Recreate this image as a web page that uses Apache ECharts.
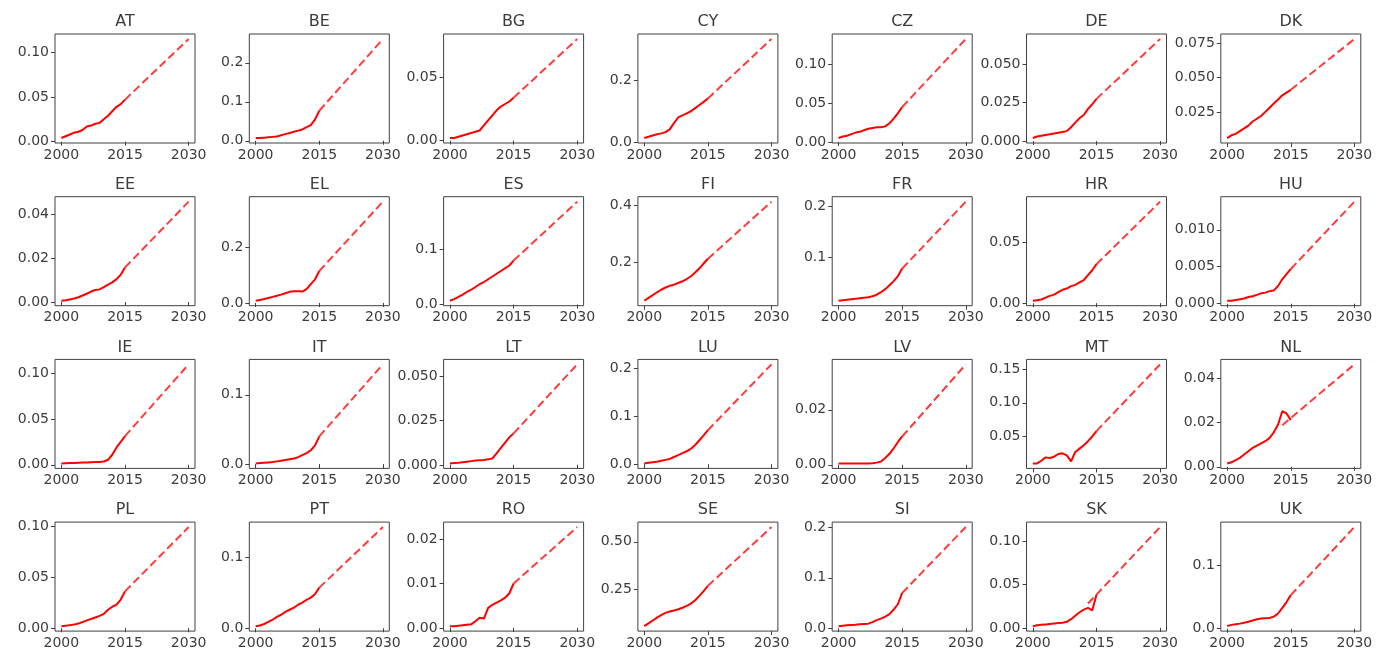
<!DOCTYPE html>
<html>
<head>
<meta charset="utf-8">
<script src="https://cdn.jsdelivr.net/npm/echarts@6/dist/echarts.min.js"></script>
<style>
html,body{margin:0;padding:0;background:#fff;}
#main{width:1386px;height:661px;}
</style>
</head>
<body>
<div id="main"></div>
<script>
// ---- DATA ----
const countries = ["AT","BE","BG","CY","CZ","DE","DK",
                   "EE","EL","ES","FI","FR","HR","HU",
                   "IE","IT","LT","LU","LV","MT","NL",
                   "PL","PT","RO","SE","SI","SK","UK"];
const years = [2000,2001,2002,2003,2004,2005,2006,2007,2008,2009,2010,2011,2012,2013,2014,2015];
const xTickLabels = ["2000","2015","2030"];

const AT = [0.004,0.006,0.008,0.010,0.011,0.013,0.017,0.018,0.020,0.021,0.025,0.029,0.034,0.039,0.042,0.047];
const BE = [0.007,0.007,0.008,0.009,0.010,0.011,0.014,0.017,0.020,0.023,0.026,0.029,0.035,0.040,0.055,0.077];
const BG = [0.002,0.002,0.003,0.004,0.005,0.006,0.007,0.008,0.012,0.016,0.020,0.024,0.027,0.029,0.031,0.034];
const CY = [0.014,0.018,0.022,0.026,0.029,0.033,0.042,0.062,0.080,0.087,0.093,0.100,0.110,0.120,0.130,0.141];
const CZ = [0.005,0.007,0.008,0.010,0.012,0.013,0.015,0.017,0.018,0.019,0.019,0.020,0.024,0.030,0.037,0.045];
const DE = [0.002,0.003,0.0035,0.004,0.0045,0.005,0.0055,0.006,0.0065,0.009,0.012,0.015,0.017,0.021,0.024,0.0275];
const DK = [0.006,0.008,0.009,0.011,0.013,0.015,0.018,0.020,0.022,0.025,0.028,0.031,0.034,0.037,0.039,0.041];
const EE = [0.0006,0.0008,0.0012,0.0016,0.0022,0.003,0.0038,0.0048,0.0055,0.0058,0.0068,0.008,0.009,0.0105,0.0125,0.0158];
const EL = [0.008,0.011,0.014,0.018,0.022,0.026,0.030,0.035,0.040,0.042,0.042,0.041,0.050,0.068,0.085,0.115];
const ES = [0.007,0.010,0.014,0.018,0.023,0.027,0.032,0.037,0.041,0.046,0.051,0.056,0.061,0.066,0.071,0.080];
const FI = [0.063,0.073,0.083,0.093,0.102,0.110,0.116,0.120,0.126,0.132,0.140,0.150,0.163,0.178,0.195,0.212];
const FR = [0.013,0.014,0.015,0.016,0.017,0.018,0.019,0.020,0.022,0.025,0.030,0.036,0.044,0.052,0.062,0.077];
const HR = [0.002,0.0025,0.003,0.0045,0.006,0.007,0.009,0.011,0.012,0.014,0.015,0.017,0.019,0.023,0.027,0.032];
const HU = [0.0004,0.0004,0.0005,0.0006,0.0007,0.0009,0.001,0.0012,0.0014,0.0015,0.0017,0.0018,0.0024,0.0033,0.004,0.0047];
const IE = [0.0015,0.0017,0.0019,0.002,0.0022,0.0024,0.0026,0.0028,0.003,0.0032,0.0036,0.0055,0.011,0.019,0.025,0.0315];
const IT = [0.001,0.0015,0.002,0.0025,0.003,0.004,0.005,0.006,0.007,0.008,0.010,0.013,0.016,0.020,0.027,0.040];
const LT = [0.0008,0.001,0.0012,0.0015,0.0018,0.0021,0.0024,0.0026,0.0028,0.0031,0.0036,0.0065,0.0095,0.0125,0.0155,0.0177];
const LU = [0.0015,0.003,0.004,0.005,0.007,0.009,0.011,0.015,0.019,0.023,0.027,0.032,0.040,0.050,0.060,0.071];
const LV = [0.0005,0.0005,0.0005,0.0005,0.0005,0.0005,0.0005,0.0005,0.0006,0.0008,0.0012,0.0025,0.004,0.006,0.0083,0.0103];
const MT = [0.010,0.010,0.014,0.019,0.018,0.020,0.024,0.025,0.022,0.013,0.027,0.032,0.037,0.043,0.050,0.058];
const NL = [0.0015,0.002,0.003,0.004,0.0055,0.007,0.0085,0.0095,0.0105,0.0115,0.013,0.0155,0.019,0.025,0.024,0.021];
const PL = [0.002,0.0025,0.003,0.0035,0.0045,0.006,0.0076,0.009,0.0105,0.012,0.014,0.018,0.021,0.023,0.028,0.036];
const PT = [0.003,0.004,0.006,0.009,0.012,0.016,0.019,0.023,0.026,0.029,0.033,0.036,0.040,0.043,0.048,0.057];
const RO = [0.0004,0.0004,0.0005,0.0006,0.0007,0.0008,0.0015,0.0023,0.0021,0.0045,0.0052,0.0057,0.0062,0.0068,0.0078,0.0100];
const SE = [0.055,0.070,0.085,0.100,0.113,0.125,0.132,0.138,0.144,0.152,0.162,0.174,0.192,0.215,0.240,0.268];
const SI = [0.004,0.005,0.006,0.0065,0.007,0.008,0.0085,0.009,0.012,0.016,0.019,0.023,0.028,0.037,0.048,0.070];
const SK = [0.002,0.003,0.0035,0.004,0.0045,0.005,0.0055,0.006,0.007,0.010,0.014,0.018,0.021,0.023,0.020,0.038];
const UK = [0.004,0.006,0.007,0.008,0.0095,0.011,0.013,0.015,0.016,0.0165,0.017,0.019,0.024,0.033,0.042,0.053];

const historical = [AT,BE,BG,CY,CZ,DE,DK,EE,EL,ES,FI,FR,HR,HU,IE,IT,LT,LU,LV,MT,NL,PL,PT,RO,SE,SI,SK,UK];

// projection (dashed) : start year, start value, value in 2030
const trendStartYear = [2015,2015,2015,2015,2015,2015,2015,
                        2015,2015,2015,2015,2015,2015,2015,
                        2015,2015,2015,2015,2015,2015,2013,
                        2015,2015,2015,2015,2015,2013,2015];
const trendStartValue = [0.047,0.077,0.034,0.141,0.045,0.0275,0.041,
                         0.0158,0.115,0.080,0.212,0.077,0.032,0.0047,
                         0.0315,0.040,0.0177,0.071,0.0103,0.058,0.0187,
                         0.036,0.057,0.0100,0.268,0.070,0.028,0.053];
const trendEndYear = 2030;
const trendEndValue = [0.115,0.261,0.0806,0.332,0.1325,0.0665,0.0779,
                       0.0459,0.364,0.187,0.4145,0.21,0.0833,0.0138,
                       0.110,0.144,0.0565,0.2086,0.0365,0.157,0.0461,
                       0.099,0.142,0.0227,0.578,0.201,0.116,0.1606];

const yTickLabels = [
  ["0.00","0.05","0.10"],["0.0","0.1","0.2"],["0.00","0.05"],["0.0","0.2"],["0.00","0.05","0.10"],["0.000","0.025","0.050"],["0.025","0.050","0.075"],
  ["0.00","0.02","0.04"],["0.0","0.2"],["0.0","0.1"],["0.2","0.4"],["0.1","0.2"],["0.00","0.05"],["0.000","0.005","0.010"],
  ["0.00","0.05","0.10"],["0.0","0.1"],["0.000","0.025","0.050"],["0.0","0.1","0.2"],["0.00","0.02"],["0.05","0.10","0.15"],["0.00","0.02","0.04"],
  ["0.00","0.05","0.10"],["0.0","0.1"],["0.00","0.01","0.02"],["0.25","0.50"],["0.0","0.1","0.2"],["0.00","0.05","0.10"],["0.0","0.1"]
];

// ---- CHART ----
const chart = echarts.init(document.getElementById('main'), null, {renderer: 'canvas'});
const FONT = 'DejaVu Sans';
const TXT = '#3c3c3c';
const grids = [], xAxes = [], yAxes = [], series = [], titles = [];
const xTicks = xTickLabels.map(Number);

countries.forEach((name, i) => {
  const row = Math.floor(i / 7), col = i % 7;
  const left = 55 + col * 194.3;
  const top = 34 + row * 162.7;
  const w = 140, h = 109;
  grids.push({left: left, top: top, width: w, height: h, show: true,
    borderColor: '#404040', borderWidth: 1, backgroundColor: '#fff'});

  const solid = years.map((y, k) => [y, historical[i][k]]);
  const dashed = [[trendStartYear[i], trendStartValue[i]], [trendEndYear, trendEndValue[i]]];
  const vals = historical[i].concat([trendStartValue[i], trendEndValue[i]]);
  const dmin = Math.min.apply(null, vals), dmax = Math.max.apply(null, vals);
  const pad = 0.05 * (dmax - dmin);
  const yTicks = yTickLabels[i].map(Number);
  const dec = yTickLabels[i][0].split('.')[1].length;

  xAxes.push({gridIndex: i, type: 'value', min: 1998.5, max: 2031.5,
    axisLine: {show: false}, splitLine: {show: false},
    axisTick: {show: true, length: 4, lineStyle: {color: '#404040'}, customValues: xTicks},
    axisLabel: {customValues: xTicks, formatter: v => String(Math.round(v)),
      fontSize: 14, color: TXT, margin: 5, fontFamily: FONT}});
  yAxes.push({gridIndex: i, type: 'value', min: dmin - pad, max: dmax + pad,
    axisLine: {show: false}, splitLine: {show: false},
    axisTick: {show: true, length: 4, lineStyle: {color: '#404040'}, customValues: yTicks},
    axisLabel: {customValues: yTicks, formatter: v => v.toFixed(dec),
      fontSize: 14, color: TXT, margin: 6, fontFamily: FONT}});

  series.push({type: 'line', xAxisIndex: i, yAxisIndex: i, data: solid,
    symbol: 'none', silent: true, animation: false,
    lineStyle: {color: '#ff0000', width: 2}});
  series.push({type: 'line', xAxisIndex: i, yAxisIndex: i, data: dashed,
    symbol: 'none', silent: true, animation: false,
    lineStyle: {color: '#ff1a1a', width: 2, type: [8, 4], opacity: 0.85}});

  titles.push({text: name, left: left + w / 2, top: top - 20, textAlign: 'center', padding: 0,
    textStyle: {fontSize: 16, fontWeight: 'normal', color: TXT, fontFamily: FONT}});
});

chart.setOption({
  animation: false,
  backgroundColor: '#fff',
  title: titles,
  grid: grids,
  xAxis: xAxes,
  yAxis: yAxes,
  series: series
});
</script>
</body>
</html>
